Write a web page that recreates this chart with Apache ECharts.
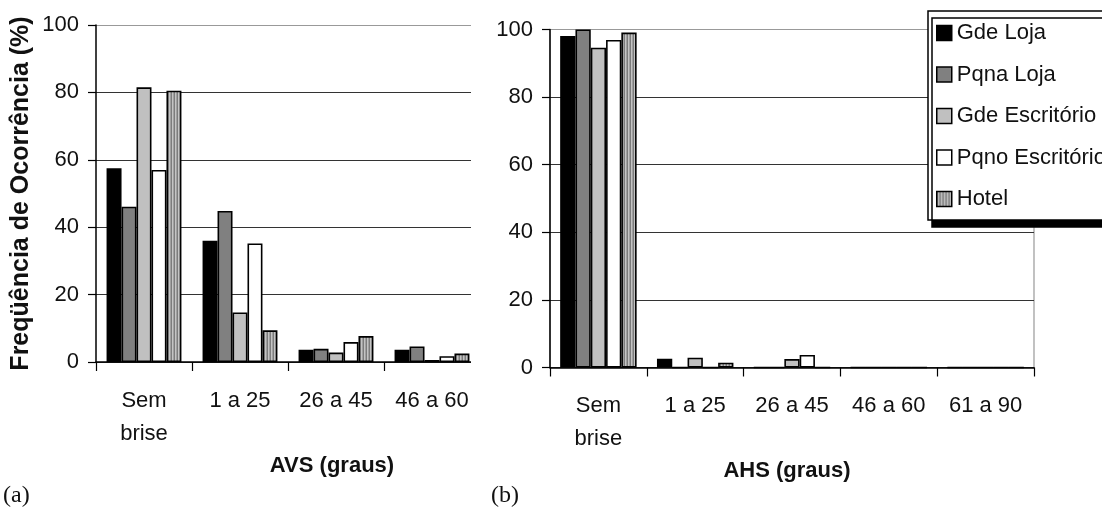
<!DOCTYPE html>
<html>
<head>
<meta charset="utf-8">
<script src="https://cdn.jsdelivr.net/npm/echarts@6/dist/echarts.min.js"></script>
<style>
html,body{margin:0;padding:0;background:#fff;}
#c{width:1102px;height:509px;}
</style>
</head>
<body>
<div id="c"></div>
<script>
// ---- data ----
var seriesNames = ['Gde Loja', 'Pqna Loja', 'Gde Escritório', 'Pqno Escritório', 'Hotel'];
var categoriesA = ['Sem\nbrise', '1 a 25', '26 a 45', '46 a 60'];
var categoriesB = ['Sem\nbrise', '1 a 25', '26 a 45', '46 a 60', '61 a 90'];
var yTicks = [0, 20, 40, 60, 80, 100];

// (a) AVS
var gdeLojaA = [57.5, 36.0, 3.6, 3.6];
var pqnaLojaA = [46.1, 44.8, 3.9, 4.6];
var gdeEscA = [81.5, 14.7, 2.8, 0.6];
var pqnoEscA = [57.0, 35.2, 5.9, 1.7];
var hotelA = [80.5, 9.4, 7.7, 2.5];

// (b) AHS
var gdeLojaB = [98.1, 2.6, 0, 0, 0];
var pqnaLojaB = [100, 0, 0, 0, 0];
var gdeEscB = [94.6, 2.9, 2.5, 0, 0];
var pqnoEscB = [96.9, 0, 3.7, 0, 0];
var hotelB = [99.1, 1.4, 0, 0, 0];

var xNameA = 'AVS (graus)';
var xNameB = 'AHS (graus)';
var yName = 'Freqüência de Ocorrência (%)';

// ---- styles ----
var SANS = "'Liberation Sans',Arial,sans-serif";

var pc = document.createElement('canvas');
pc.width = 3; pc.height = 4;
var pctx = pc.getContext('2d');
pctx.fillStyle = '#7c7c7c'; pctx.fillRect(0, 0, 1, 4);
pctx.fillStyle = '#c4c4c4'; pctx.fillRect(1, 0, 1, 4);
pctx.fillStyle = '#a0a0a0'; pctx.fillRect(2, 0, 1, 4);

var fills = ['#000000', '#808080', '#c0c0c0', '#ffffff', {image: pc, repeat: 'repeat'}];
var dataA = [gdeLojaA, pqnaLojaA, gdeEscA, pqnoEscA, hotelA];
var dataB = [gdeLojaB, pqnaLojaB, gdeEscB, pqnoEscB, hotelB];

function makeSeries(data, idx) {
  return data.map(function (d, i) {
    return {
      name: seriesNames[i],
      type: 'bar',
      xAxisIndex: idx, yAxisIndex: idx,
      data: d,
      barGap: '0%',
      barCategoryGap: idx === 0 ? '22%' : '21%',
      itemStyle: {color: fills[i], borderColor: '#000', borderWidth: 1.6},
      emphasis: {disabled: true},
      animation: false
    };
  });
}

function xAxisCfg(cats, idx, name, pad, gap) {
  return {
    type: 'category', gridIndex: idx, data: cats,
    name: name, nameLocation: 'middle', nameGap: gap,
    nameTextStyle: {fontFamily: SANS, fontWeight: 'bold', fontSize: 22, color: '#111', padding: pad},
    axisLine: {lineStyle: {color: '#000', width: 1.5}},
    axisTick: {show: true, length: 9, lineStyle: {color: '#000', width: 1.2}},
    axisLabel: {interval: 0, fontFamily: SANS, fontSize: 22, color: '#111', margin: 22, lineHeight: 33, verticalAlign: 'top'},
    splitLine: {show: false}
  };
}
function yAxisCfg(idx, withName) {
  var c = {
    type: 'value', gridIndex: idx, min: yTicks[0], max: yTicks[yTicks.length - 1], interval: 20,
    axisLine: {show: true, lineStyle: {color: '#000', width: 1.5}},
    axisTick: {show: true, length: 8, lineStyle: {color: '#000', width: 1.2}},
    axisLabel: {fontFamily: SANS, fontSize: 22, color: '#111', margin: 17},
    splitLine: {show: true, lineStyle: {color: ['#333', '#333', '#333', '#333', '#333', '#999'], width: 1.2}}
  };
  if (withName) {
    c.name = yName;
    c.nameLocation = 'middle';
    c.nameGap = 62;
    c.nameTextStyle = {fontFamily: SANS, fontWeight: 'bold', fontSize: 25, color: '#111'};
  }
  return c;
}

var chart = echarts.init(document.getElementById('c'), null, {renderer: 'canvas'});
chart.setOption({
  animation: false,
  backgroundColor: '#fff',
  grid: [
    {left: 96, top: 25, width: 384, height: 337},
    {left: 550, top: 29.5, width: 484, height: 338, show: true, borderColor: '#999', borderWidth: 1.2, backgroundColor: 'transparent'}
  ],
  xAxis: [
    xAxisCfg(categoriesA, 0, xNameA, [0, 0, 0, 88], 90),
    xAxisCfg(categoriesB, 1, xNameB, [0, 10, 0, 0], 87)
  ],
  yAxis: [yAxisCfg(0, true), yAxisCfg(1, false)],
  legend: {
    data: seriesNames,
    orient: 'vertical',
    left: 928, top: 11,
    padding: [7, 40, 6, 8],
    itemWidth: 15, itemHeight: 15, itemGap: 11.5,
    icon: 'rect',
    selectedMode: false,
    itemStyle: {borderColor: '#000', borderWidth: 1.5},
    textStyle: {fontFamily: SANS, fontSize: 22, color: '#111', lineHeight: 30},
    backgroundColor: '#fff', borderColor: '#000', borderWidth: 1.5,
    shadowColor: '#000', shadowBlur: 0, shadowOffsetX: 4, shadowOffsetY: 7
  },
  graphic: [
    {type: 'rect', left: 471, top: 15, z: 100, shape: {width: 14, height: 365}, style: {fill: '#fff'}},
    {type: 'text', left: 3, top: 484, style: {text: '(a)', font: "24px 'Liberation Serif', 'Times New Roman', serif", fill: '#111'}},
    {type: 'text', left: 491, top: 484, style: {text: '(b)', font: "24px 'Liberation Serif', 'Times New Roman', serif", fill: '#111'}}
  ],
  series: makeSeries(dataA, 0).concat(makeSeries(dataB, 1))
});
</script>
</body>
</html>
